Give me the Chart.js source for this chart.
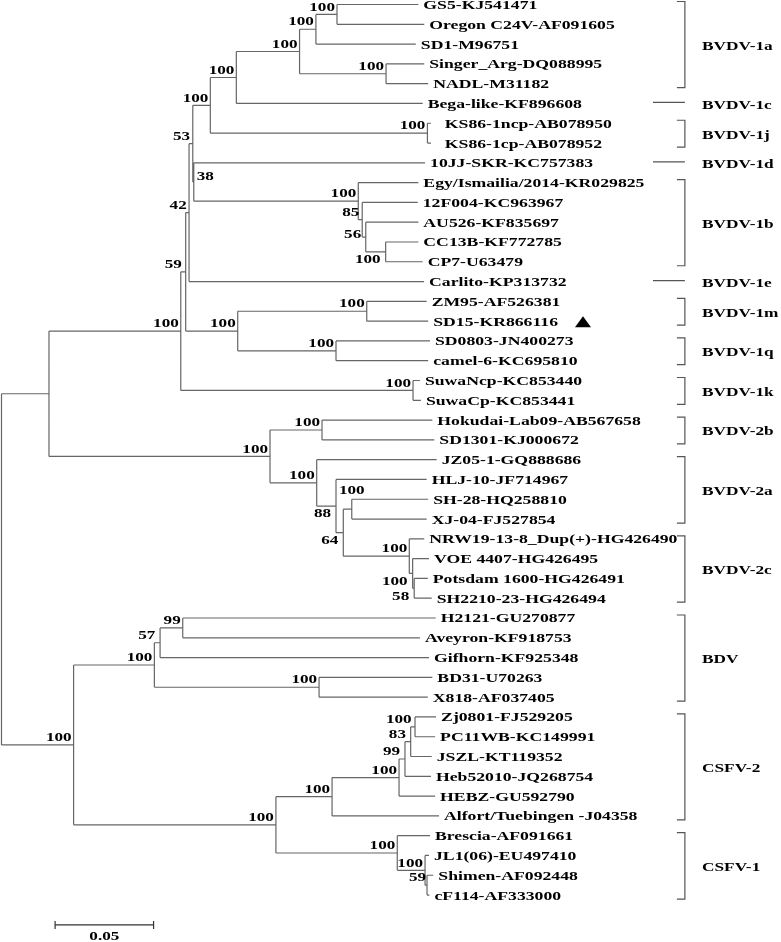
<!DOCTYPE html>
<html lang="en">
<head>
<meta charset="UTF-8" />
<title>Pestivirus phylogeny</title>
<script src="https://cdn.jsdelivr.net/npm/chart.js"></script>
<style>
  html, body { margin: 0; padding: 0; background: #fff; }
  canvas { display: block; }
</style>
</head>
<body>
<canvas id="tree" width="781" height="942"></canvas>
<script>
// taxa, top to bottom
const taxa = [
  'GS5-KJ541471', 'Oregon C24V-AF091605', 'SD1-M96751', 'Singer_Arg-DQ088995', 'NADL-M31182',
  'Bega-like-KF896608', '  KS86-1ncp-AB078950', '  KS86-1cp-AB078952', '10JJ-SKR-KC757383',
  'Egy/Ismailia/2014-KR029825', '12F004-KC963967', 'AU526-KF835697', 'CC13B-KF772785', 'CP7-U63479',
  'Carlito-KP313732', 'ZM95-AF526381', 'SD15-KR866116', 'SD0803-JN400273', 'camel-6-KC695810',
  'SuwaNcp-KC853440', 'SuwaCp-KC853441', 'Hokudai-Lab09-AB567658', 'SD1301-KJ000672',
  'JZ05-1-GQ888686', 'HLJ-10-JF714967', 'SH-28-HQ258810', 'XJ-04-FJ527854',
  'NRW19-13-8_Dup(+)-HG426490', 'VOE 4407-HG426495', 'Potsdam 1600-HG426491', 'SH2210-23-HG426494',
  'H2121-GU270877', 'Aveyron-KF918753', 'Gifhorn-KF925348', 'BD31-U70263', 'X818-AF037405',
  'Zj0801-FJ529205', 'PC11WB-KC149991', 'JSZL-KT119352', 'Heb52010-JQ268754', 'HEBZ-GU592790',
  'Alfort/Tuebingen -J04358', 'Brescia-AF091661', 'JL1(06)-EU497410', 'Shimen-AF092448', 'cF114-AF333000'
];
const taxonParent = [
  'n337', 'n337', 'n316', 'nSN', 'nSN', 'n1ac', 'n1j', 'n1j', 'n38', 'n1b', 'n85', 'n56', 'nCC', 'nCC',
  'n42', 'n1m', 'n1m', 'n1q', 'n1q', 'n1k', 'n1k', 'n2b', 'n2b', 'n2ac', 'n88', 'nSX', 'nSX',
  'n2c', 'nVOE', 'n58', 'n58', 'n99', 'n99', 'n57', 'nBX', 'nBX', 'nZP', 'nZP', 'n83', 'n99c',
  'n100c', 'csfv2', 'csfv1', 'nJL', 'n59s', 'n59s'
];
// distance from root (substitutions per site)
const taxonDepth = [
  0.2116, 0.2146, 0.2103, 0.2146, 0.2166, 0.2138, 0.2180, 0.2180, 0.2150, 0.2116, 0.2113, 0.2116,
  0.2116, 0.2138, 0.2145, 0.2158, 0.2166, 0.2175, 0.2166, 0.2124, 0.2129, 0.2187, 0.2197, 0.2209,
  0.2158, 0.2166, 0.2158, 0.2146, 0.2170, 0.2164, 0.2184, 0.2204, 0.2124, 0.2170, 0.2187, 0.2164,
  0.2206, 0.2201, 0.2184, 0.2180, 0.2201, 0.2221, 0.2175, 0.2170, 0.2192, 0.2172
];
const markedTaxa = [16];

// internal nodes
const nodeIds = [
  'root', 'bvdv', 'other', 'bvdv1', 'n59', 'n42', 'n53', 'n100a', 'n1ac', 'n1a', 'n316', 'n337', 'nSN',
  'n1j', 'n38', 'n1b', 'n85', 'n56', 'nCC', 'n1mq', 'n1m', 'n1q', 'n1k', 'bvdv2', 'n2b', 'n2ac', 'n88',
  'n64', 'nSX', 'n2c', 'nVOE', 'n58', 'bdv', 'n57', 'n99', 'nBX', 'csfv', 'csfv2', 'n100c', 'n99c',
  'n83', 'nZP', 'csfv1', 'nJL', 'n59s'
];
const nodeParent = [
  null, 'root', 'root', 'bvdv', 'bvdv1', 'n59', 'n42', 'n53', 'n100a', 'n1ac', 'n1a', 'n316', 'n1a',
  'n100a', 'n53', 'n38', 'n1b', 'n85', 'n56', 'n59', 'n1mq', 'n1mq', 'bvdv1', 'bvdv', 'bvdv2', 'bvdv2', 'n2ac',
  'n88', 'n64', 'n64', 'n2c', 'nVOE', 'other', 'bdv', 'n57', 'bdv', 'other', 'csfv', 'csfv2', 'n100c',
  'n99c', 'n83', 'csfv', 'csfv1', 'nJL'
];
const nodeDepth = [
  0, 0.0241, 0.0366, 0.0910, 0.0935, 0.0952, 0.0971, 0.1060, 0.1192, 0.1513, 0.1596, 0.1703, 0.1952,
  0.2162, 0.0976, 0.1811, 0.1831, 0.1849, 0.1950, 0.1199, 0.1854, 0.1698, 0.2089, 0.1363, 0.1627, 0.1600,
  0.1698, 0.1735, 0.1778, 0.2070, 0.2087, 0.2095, 0.0776, 0.0805, 0.0920, 0.1612, 0.1393, 0.1678, 0.2018,
  0.2048, 0.2077, 0.2099, 0.2009, 0.2150, 0.2160
];
const nodeSupport = [
  null, null, 100, 100, 59, 42, 53, 100, 100, 100, 100, 100, 100,
  100, 38, 100, 85, 56, 100, 100, 100, 100, 100, 100, 100, 100,
  88, 64, 100, 100, 100, 58, 100, 57, 99, 100, 100, 100, 100,
  99, 83, 100, 100, 100, 59
];
// where each support value sits: a above, b below, r right, m level, t over first child
const supportPos = [
  'a', 'a', 'a', 'a', 'a', 'a', 'a', 'a', 'a', 'a', 'a', 'a', 'a',
  'a', 'r', 'a', 'a', 'm', 'b', 'a', 'a', 'a', 'a', 'a', 'a', 'a',
  'b', 'b', 't', 'a', 'b', 'b', 'a', 'a', 'a', 'a', 'a', 'a', 'a',
  'a', 'a', 'a', 'a', 'a', 'a'
];

// clades
const cladeNames = ['BVDV-1a', 'BVDV-1c', 'BVDV-1j', 'BVDV-1d', 'BVDV-1b', 'BVDV-1e', 'BVDV-1m', 'BVDV-1q',
  'BVDV-1k', 'BVDV-2b', 'BVDV-2a', 'BVDV-2c', 'BDV', 'CSFV-2', 'CSFV-1'];
const cladeFirst = [0, 5, 6, 8, 9, 14, 15, 17, 19, 21, 23, 27, 31, 36, 42];
const cladeLast = [4, 5, 7, 8, 13, 14, 16, 18, 20, 22, 26, 30, 35, 41, 45];

const scaleBarLength = 0.05;

// ---- tree layout ----
const depthOf = {}, childNodes = {}, childTaxa = {}, yOf = {};
nodeIds.forEach((id, k) => { depthOf[id] = nodeDepth[k]; childNodes[id] = []; childTaxa[id] = []; });
nodeIds.forEach((id, k) => { if (nodeParent[k]) childNodes[nodeParent[k]].push(id); });
taxa.forEach((t, i) => childTaxa[taxonParent[i]].push(i));

function nodeY(id) {
  if (yOf[id] !== undefined) return yOf[id];
  const ys = childTaxa[id].concat(childNodes[id].map(nodeY));
  yOf[id] = (Math.min(...ys) + Math.max(...ys)) / 2;
  return yOf[id];
}
nodeIds.forEach(nodeY);

const branches = [];
function seg(x0, y0, x1, y1) {
  branches.push({ x: x0, y: y0 }, { x: x1, y: y1 }, { x: null, y: null });
}
taxa.forEach((t, i) => seg(depthOf[taxonParent[i]], i, taxonDepth[i], i));
nodeIds.forEach((id, k) => {
  const ys = childTaxa[id].concat(childNodes[id].map(c => yOf[c]));
  seg(nodeDepth[k], Math.min(...ys), nodeDepth[k], Math.max(...ys));
  if (nodeParent[k]) seg(depthOf[nodeParent[k]], yOf[id], nodeDepth[k], yOf[id]);
});

// ---- scale geometry (data units) ----
const PX_PER_UNIT = 1970, ROW = 19.79;
const xMin = -1.5 / PX_PER_UNIT, xMax = xMin + 781 / PX_PER_UNIT;
const yMin = -4.5 / ROW, yMax = yMin + 942 / ROW;
const bracketX = 0.3469, singleX = 0.3307, cladeLabelX = 0.3556;
const barX = 0.0272, barRow = 46.51;

const FONT = '"Liberation Serif", "Times New Roman", serif';

const treeLabels = {
  id: 'treeLabels',
  afterDatasetsDraw(chart) {
    const { ctx, scales: { x, y } } = chart;
    const put = (text, px, py, size, sx, align) => {
      ctx.save();
      ctx.font = 'bold ' + size + 'px ' + FONT;
      ctx.fillStyle = '#000';
      ctx.textBaseline = 'middle';
      ctx.textAlign = align;
      ctx.translate(px, py);
      ctx.scale(sx, 1);
      ctx.fillText(text, 0, 0);
      const w = ctx.measureText(text).width * sx;
      ctx.restore();
      return w;
    };

    // taxon names
    taxa.forEach((t, i) => {
      const px = x.getPixelForValue(taxonDepth[i]) + 5;
      const py = y.getPixelForValue(i) + 1;
      const w = put(t, px, py, 13.5, 1.31, 'left');
      if (markedTaxa.includes(i)) {
        const tx = px + w + 17;
        ctx.save();
        ctx.fillStyle = '#000';
        ctx.beginPath();
        ctx.moveTo(tx, py + 5);
        ctx.lineTo(tx + 16, py + 5);
        ctx.lineTo(tx + 8, py - 6);
        ctx.closePath();
        ctx.fill();
        ctx.restore();
      }
    });

    // bootstrap values
    nodeIds.forEach((id, k) => {
      if (nodeSupport[k] === null) return;
      const nx = x.getPixelForValue(nodeDepth[k]);
      const ny = y.getPixelForValue(yOf[id]);
      const px = nodeParent[k] ? x.getPixelForValue(depthOf[nodeParent[k]]) : nx;
      const s = String(nodeSupport[k]);
      const pos = supportPos[k];
      if (pos === 'r') put(s, nx + 3, ny - 5, 12.5, 1.37, 'left');
      else if (pos === 'b') put(s, nx - 5, ny + 8, 12.5, 1.37, 'right');
      else if (pos === 'm') put(s, px - 1, ny - 2, 12.5, 1.37, 'right');
      else if (pos === 't') put(s, nx, y.getPixelForValue(Math.min(...childTaxa[id])) - 8, 12.5, 1.37, 'center');
      else put(s, (nx - px < 6 ? px + 1 : nx - 2), ny - 7, 12.5, 1.37, 'right');
    });

    // clade brackets
    const bx = x.getPixelForValue(bracketX);
    ctx.save();
    ctx.strokeStyle = '#555';
    ctx.lineWidth = 1.2;
    cladeNames.forEach((name, k) => {
      const y0 = y.getPixelForValue(cladeFirst[k]);
      const y1 = y.getPixelForValue(cladeLast[k]);
      ctx.beginPath();
      if (cladeFirst[k] === cladeLast[k]) {
        ctx.moveTo(x.getPixelForValue(singleX), y0 - 1);
        ctx.lineTo(bx, y0 - 1);
      } else {
        ctx.moveTo(bx - 8, y0 - 3);
        ctx.lineTo(bx, y0 - 3);
        ctx.lineTo(bx, y1 + 4);
        ctx.lineTo(bx - 8, y1 + 4);
      }
      ctx.stroke();
    });
    ctx.restore();
    cladeNames.forEach((name, k) => {
      const ym = (y.getPixelForValue(cladeFirst[k]) + y.getPixelForValue(cladeLast[k])) / 2 + 2;
      put(name, x.getPixelForValue(cladeLabelX), ym, 13.5, 1.28, 'left');
    });

    // scale bar
    const sx0 = x.getPixelForValue(barX), sx1 = x.getPixelForValue(barX + scaleBarLength);
    const sy = y.getPixelForValue(barRow);
    ctx.save();
    ctx.strokeStyle = '#333';
    ctx.lineWidth = 1.2;
    ctx.beginPath();
    ctx.moveTo(sx0, sy); ctx.lineTo(sx1, sy);
    ctx.moveTo(sx0, sy - 4); ctx.lineTo(sx0, sy + 4);
    ctx.moveTo(sx1, sy - 4); ctx.lineTo(sx1, sy + 4);
    ctx.stroke();
    ctx.restore();
    put(String(scaleBarLength), (sx0 + sx1) / 2, sy + 12, 12.5, 1.37, 'center');
  }
};

new Chart(document.getElementById('tree'), {
  type: 'scatter',
  data: {
    datasets: [{
      data: branches,
      showLine: true,
      spanGaps: false,
      borderColor: '#666',
      borderWidth: 1.2,
      pointRadius: 0,
      pointHoverRadius: 0
    }]
  },
  options: {
    responsive: false,
    animation: false,
    layout: { padding: 0 },
    scales: {
      x: { type: 'linear', display: false, min: xMin, max: xMax },
      y: { type: 'linear', display: false, reverse: true, min: yMin, max: yMax }
    },
    plugins: {
      legend: { display: false },
      tooltip: { enabled: false }
    }
  },
  plugins: [treeLabels]
});
</script>
</body>
</html>
